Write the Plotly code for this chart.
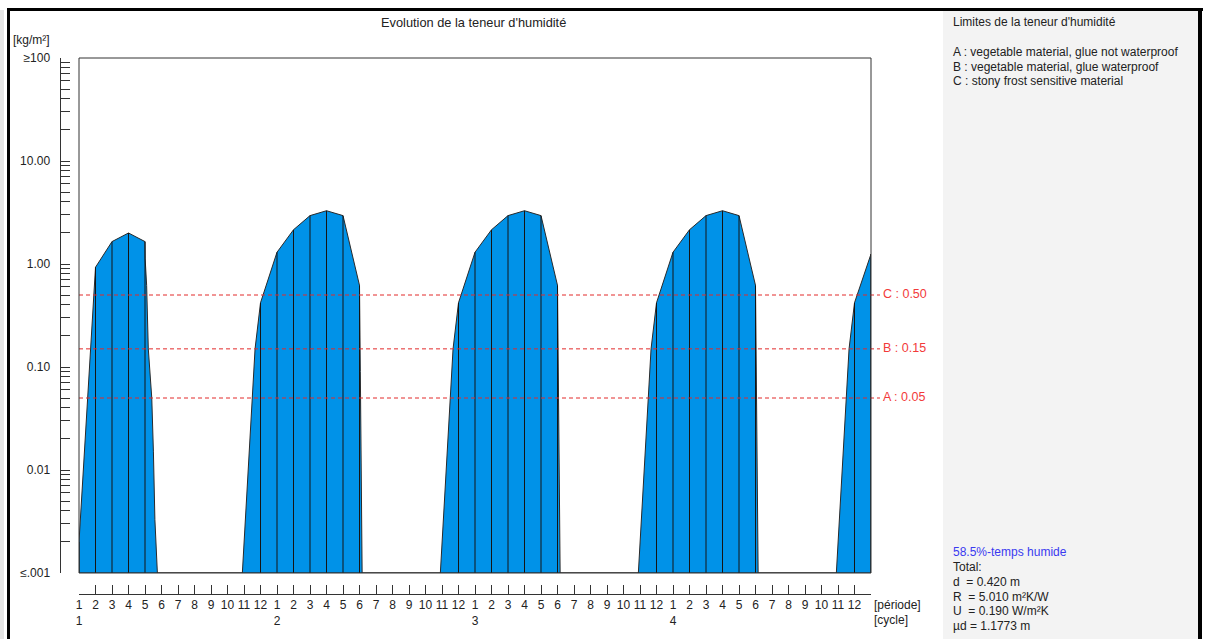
import plotly.graph_objects as go

W, H = 1210, 639

# ---------------- data ----------------
period_labels = [str(p) for p in range(1, 13)]
cycle_labels = ["1", "2", "3", "4"]

# moisture content curve: position in periods (0 = period 1 of cycle 1) and value [kg/m2]
curve_period = [0, 0, 1, 2, 3, 4, 4.01, 4.1, 4.2, 4.41, 4.51, 4.6, 4.75,
                9.9, 10.67, 11, 12, 13, 14, 15, 16, 17, 17.05, 17.12, 17.16,
                21.9, 22.67, 23, 24, 25, 26, 27, 28, 29, 29.05, 29.12, 29.16,
                33.9, 34.67, 35, 36, 37, 38, 39, 40, 41, 41.05, 41.12, 41.16,
                45.9, 46.67, 47, 48]
curve_value = [0.001, 0.002, 0.93, 1.65, 2.0, 1.65, 1.12, 0.62, 0.15, 0.05, 0.015, 0.0033, 0.001,
               0.001, 0.15, 0.42, 1.30, 2.15, 2.95, 3.29, 2.95, 0.62, 0.09, 0.004, 0.001,
               0.001, 0.15, 0.42, 1.30, 2.15, 2.95, 3.29, 2.95, 0.62, 0.09, 0.004, 0.001,
               0.001, 0.15, 0.42, 1.30, 2.15, 2.95, 3.29, 2.95, 0.62, 0.09, 0.004, 0.001,
               0.001, 0.15, 0.42, 1.25]

limit_names = ["A", "B", "C"]
limit_values = [0.05, 0.15, 0.50]
limit_labels = ["A : 0.05", "B : 0.15", "C : 0.50"]

y_major_vals = [0.001, 0.01, 0.1, 1, 10, 100]
y_major_text = ["≤.001", "0.01", "0.10", "1.00", "10.00", "≥100"]

legend_title = "Limites de la teneur d'humidité"
legend_lines = ["A : vegetable material, glue not waterproof",
                "B : vegetable material, glue waterproof",
                "C : stony frost sensitive material"]
wet_time = "58.5%-temps humide"
totals = ["Total:",
          "d\u00a0\u00a0= 0.420 m",
          "R\u00a0\u00a0= 5.010 m²K/W",
          "U\u00a0\u00a0= 0.190 W/m²K",
          "µd = 1.1773 m"]

# ---------------- layout geometry (px) ----------------
PX_L, PX_R, PX_T, PX_B = 79, 871, 58, 573
PX_EXT = 880       # end of the limit lines
PX_EXT_AX = 940    # end of the helper axis used for the limit lines/labels
n_periods = 48


def fx(px):
    return px / W


def fy(py):
    return 1 - py / H


FONT = "Liberation Sans, Arial, sans-serif"
TXT = "#222222"
BLUE = "rgb(0,146,232)"

fig = go.Figure()

# filled moisture curve
poly_x = curve_period + [n_periods, 0]
poly_y = curve_value + [0.001, 0.001]
fig.add_trace(go.Scatter(
    x=poly_x, y=poly_y, mode="lines", fill="toself", fillcolor=BLUE,
    line=dict(color="#2a2a2a", width=1), hoverinfo="skip", showlegend=False,
    xaxis="x", yaxis="y"))

# vertical dividers at each period tick
vx, vy = [], []
for t in range(0, n_periods + 1):
    vals = [v for p, v in zip(curve_period, curve_value) if p == t]
    if vals and max(vals) > 0.0011:
        vx += [t, t, None]
        vy += [0.001, max(vals), None]
fig.add_trace(go.Scatter(x=vx, y=vy, mode="lines",
                         line=dict(color="#151515", width=1),
                         hoverinfo="skip", showlegend=False, xaxis="x", yaxis="y"))

# limit lines (on a helper axis so they run past the frame)
per_px = n_periods / (PX_R - PX_L)
x_ext = (PX_EXT - PX_L) * per_px
x_lab = (PX_EXT + 3 - PX_L) * per_px
x_ax_end = (PX_EXT_AX - PX_L) * per_px
for val in limit_values:
    fig.add_trace(go.Scatter(
        x=[0, x_ext], y=[val, val], mode="lines",
        line=dict(color="#E22A2A", width=1, dash="4px,3px"),
        hoverinfo="skip", showlegend=False, xaxis="x2", yaxis="y"))
fig.add_trace(go.Scatter(
    x=[x_lab] * len(limit_values), y=limit_values, mode="text", text=limit_labels,
    textposition="middle right", cliponaxis=False,
    textfont=dict(family=FONT, size=12.5, color="#F23A3A"),
    hoverinfo="skip", showlegend=False, xaxis="x2", yaxis="y"))

# ticks
tick_pos = list(range(0, n_periods + 1))
tick_txt = []
for i in tick_pos:
    if i < n_periods:
        t = period_labels[i % 12]
        if i % 12 == 0:
            t += "<br>" + cycle_labels[i // 12]
    else:
        t = ""
    tick_txt.append(t)

y_vals, y_text = [], []
for k, mv in enumerate(y_major_vals):
    y_vals.append(mv)
    y_text.append(y_major_text[k])
    if k < len(y_major_vals) - 1:
        for m in range(2, 10):
            y_vals.append(mv * m)
            y_text.append("")

shapes = [
    # right panel
    dict(type="rect", xref="paper", yref="paper", x0=fx(943), x1=fx(1198),
         y0=0, y1=fy(10), fillcolor="#F3F3F3", line=dict(width=0), layer="below"),
    # thin gray strip at far left
    dict(type="rect", xref="paper", yref="paper", x0=0, x1=fx(4),
         y0=0, y1=fy(10), fillcolor="#E4E4E4", line=dict(width=0), layer="below"),
    # outer black border
    dict(type="line", xref="paper", yref="paper", x0=fx(8.5), x1=fx(8.5),
         y0=0, y1=fy(8), line=dict(color="black", width=3)),
    dict(type="line", xref="paper", yref="paper", x0=fx(7), x1=fx(1203),
         y0=fy(9.5), y1=fy(9.5), line=dict(color="black", width=3)),
    dict(type="line", xref="paper", yref="paper", x0=fx(1200), x1=fx(1200),
         y0=0, y1=fy(8), line=dict(color="black", width=4)),
    # plot frame
    dict(type="rect", xref="paper", yref="paper", x0=fx(PX_L), x1=fx(PX_R),
         y0=fy(PX_B), y1=fy(PX_T), line=dict(color="#333333", width=1),
         fillcolor="rgba(0,0,0,0)", layer="above"),
]

PAD = 3  # annotation inner padding
annotations = [
    dict(text="Evolution de la teneur d'humidité", x=fx(473), y=fy(22),
         xanchor="center", yanchor="middle",
         font=dict(family=FONT, size=12.8, color=TXT)),
    dict(text="[kg/m²]", x=fx(14 - PAD), y=fy(40), xanchor="left", yanchor="middle"),
    dict(text="[période]", x=fx(875 - PAD), y=fy(605), xanchor="left", yanchor="middle"),
    dict(text="[cycle]", x=fx(875 - PAD), y=fy(620), xanchor="left", yanchor="middle"),
    dict(text=legend_title, x=fx(954 - PAD), y=fy(22), xanchor="left", yanchor="middle"),
]
for i, line in enumerate(legend_lines):
    annotations.append(dict(text=line, x=fx(954 - PAD), y=fy(52 + 14.6 * i),
                            xanchor="left", yanchor="middle"))
annotations.append(dict(text=wet_time, x=fx(954 - PAD), y=fy(552), xanchor="left",
                        yanchor="middle", font=dict(family=FONT, size=12, color="#3A3AF0")))
for i, line in enumerate(totals):
    annotations.append(dict(text=line, x=fx(954 - PAD), y=fy(567 + 14.8 * i),
                            xanchor="left", yanchor="middle"))
for a in annotations:
    a.setdefault("xref", "paper")
    a.setdefault("yref", "paper")
    a.setdefault("showarrow", False)
    a.setdefault("font", dict(family=FONT, size=12, color=TXT))

fig.update_layout(
    width=W, height=H, autosize=False,
    margin=dict(l=0, r=0, t=0, b=0, pad=0, autoexpand=False),
    paper_bgcolor="white", plot_bgcolor="rgba(0,0,0,0)",
    font=dict(family=FONT, size=12, color=TXT),
    showlegend=False,
    xaxis=dict(domain=[fx(PX_L), fx(PX_R)], range=[0, n_periods],
               anchor="free", position=fy(594), automargin=False,
               tickmode="array", tickvals=tick_pos, ticktext=tick_txt,
               ticks="inside", ticklen=9, tickwidth=1, tickcolor="#333333",
               showline=True, linecolor="#333333", linewidth=1,
               showgrid=False, zeroline=False, tickangle=0,
               tickfont=dict(family=FONT, size=12, color=TXT)),
    xaxis2=dict(domain=[fx(PX_L), fx(PX_EXT_AX)], range=[0, x_ax_end], anchor="y",
                visible=False, showgrid=False, zeroline=False, automargin=False),
    yaxis=dict(type="log", domain=[fy(PX_B), fy(PX_T)], range=[-3, 2],
               anchor="free", position=fx(59.5), automargin=False,
               tickmode="array", tickvals=y_vals, ticktext=y_text,
               ticks="inside", ticklen=9, tickwidth=1, tickcolor="#333333",
               showline=True, linecolor="#333333", linewidth=1,
               showgrid=False, zeroline=False, ticklabelstandoff=7,
               tickfont=dict(family=FONT, size=12, color=TXT)),
    shapes=shapes,
    annotations=annotations,
)

fig.write_html("out.html", config={"displayModeBar": False},
               post_script="document.body.style.margin='0';")
